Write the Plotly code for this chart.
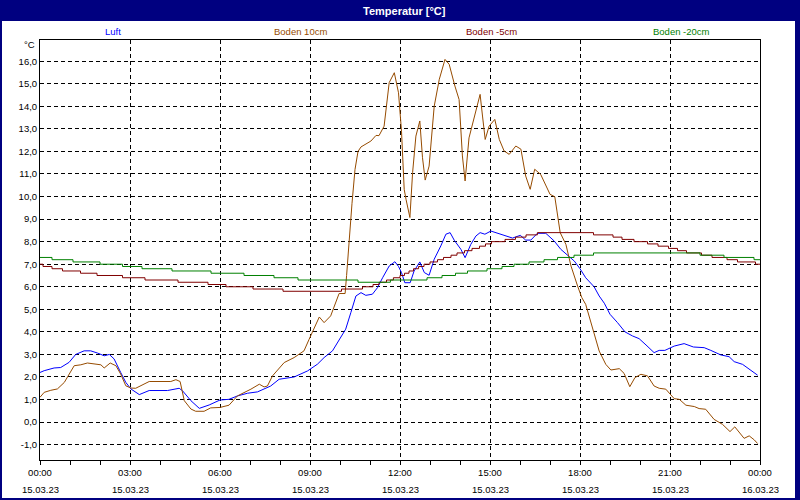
import plotly.graph_objects as go

# ---------------- data (hours since 15.03.23 00:00, °C) ----------------
luft_h = [0.0, 0.14, 0.47, 0.69, 0.97, 1.19, 1.47, 1.69, 1.92, 2.14, 2.31, 2.47, 2.69, 2.86,
          3.03, 3.31, 3.64, 4.25, 4.64, 4.75, 5.03, 5.31, 5.64, 6.0, 6.3, 6.58, 6.92, 7.25,
          7.69, 7.97, 8.47, 8.92, 9.25, 9.47, 9.75, 9.97, 10.19, 10.36, 10.53, 10.7, 10.86,
          11.08, 11.25, 11.42, 11.64, 11.83, 11.95, 12.05, 12.16, 12.34, 12.47, 12.66, 12.81,
          12.97, 13.14, 13.36, 13.53, 13.67, 13.81, 14.03, 14.17, 14.36, 14.53, 14.67, 14.83,
          15.03, 15.19, 15.47, 15.75, 16.01, 16.19, 16.36, 16.58, 16.86, 17.14, 17.36, 17.58,
          17.81, 18.0, 18.19, 18.47, 18.64, 18.81, 19.0, 19.25, 19.5, 19.75, 19.97, 20.2,
          20.47, 20.64, 20.83, 21.14, 21.47, 21.78, 22.14, 22.36, 22.69, 22.97, 23.14, 23.42,
          23.64, 23.81, 23.92]
luft_v = [2.2, 2.28, 2.4, 2.42, 2.65, 3.0, 3.16, 3.16, 3.06, 2.94, 3.0, 2.8, 2.2, 1.76,
          1.47, 1.22, 1.4, 1.4, 1.5, 1.39, 0.95, 0.61, 0.76, 0.98, 1.01, 1.16, 1.28, 1.34,
          1.6, 1.9, 2.0, 2.27, 2.57, 2.86, 3.16, 3.67, 4.12, 4.85, 5.59, 5.74, 5.62,
          5.67, 5.96, 6.4, 6.92, 7.11, 6.9, 6.63, 6.18, 6.18, 6.7, 7.1, 6.63,
          6.51, 7.22, 7.81, 8.33, 8.4, 8.06, 7.66, 7.29, 7.88, 8.25, 8.4, 8.33,
          8.47, 8.4, 8.28, 8.16, 8.28, 8.07, 8.07, 8.37, 8.37, 8.03, 7.66, 7.39,
          7.14, 6.8, 6.4, 6.0, 5.59, 5.27, 4.78, 4.41, 4.0, 3.82, 3.7, 3.42,
          3.08, 3.18, 3.18, 3.37, 3.48, 3.33, 3.3, 3.18, 2.98, 2.9, 2.68, 2.56,
          2.34, 2.15, 2.08]

boden10_h = [0.0, 0.14, 0.36, 0.58, 0.81, 1.14, 1.36, 1.58, 2.03, 2.14, 2.34, 2.53, 2.69, 2.86,
             3.03, 3.19, 3.64, 4.36, 4.53, 4.67, 4.81, 5.03, 5.19, 5.47, 5.69, 6.0, 6.3, 6.58,
             7.03, 7.31, 7.47, 7.58, 7.75, 8.14, 8.47, 8.8, 8.97, 9.31, 9.47, 9.69, 9.97,
             10.17, 10.22, 10.3, 10.4, 10.5, 10.6, 10.7, 11.03, 11.2, 11.3, 11.47, 11.64,
             11.81, 11.95, 12.05, 12.14, 12.2, 12.33, 12.42, 12.53, 12.66, 12.75, 12.84,
             12.97, 13.14, 13.31, 13.5, 13.64, 13.83, 13.97, 14.08, 14.17, 14.3, 14.53, 14.67,
             14.75, 14.84, 14.97, 15.16, 15.31, 15.47, 15.64, 15.86, 16.03, 16.19, 16.34,
             16.49, 16.69, 17.0, 17.16, 17.34, 17.53, 17.7, 17.92, 18.06, 18.19, 18.42,
             18.64, 18.86, 19.03, 19.31, 19.47, 19.66, 19.83, 20.03, 20.25, 20.47, 20.64,
             20.86, 21.14, 21.31, 21.53, 21.81, 21.97, 22.19, 22.47, 22.75, 23.0, 23.16,
             23.31, 23.47, 23.64, 23.81, 23.92]
boden10_v = [1.1, 1.32, 1.41, 1.47, 1.76, 2.5, 2.54, 2.62, 2.54, 2.4, 2.62, 2.5, 2.13, 1.61,
             1.51, 1.5, 1.8, 1.8, 1.88, 1.8, 0.95, 0.58, 0.48, 0.48, 0.63, 0.65, 0.75, 1.16,
             1.46, 1.68, 1.56, 1.6, 2.05, 2.64, 2.86, 3.16, 3.67, 4.66, 4.41, 4.71, 5.7,
             5.7, 6.5, 8.0, 9.7, 11.2, 12.0, 12.2, 12.46, 12.71, 12.7, 13.12, 15.05,
             15.49, 14.6, 12.9, 10.32, 9.88, 9.07, 11.06, 12.68, 13.35, 11.72, 10.73,
             11.35, 14.0, 15.2, 16.08, 15.86, 14.9, 14.3, 11.8, 10.69, 12.6, 13.79, 14.53,
             13.57, 12.53, 13.12, 13.42, 12.53, 12.02, 11.87, 12.24, 12.1, 10.91, 10.32,
             11.21, 10.98, 10.1, 9.99, 8.4, 7.88, 6.92, 6.03, 5.52, 5.22, 4.11,
             3.15, 2.56, 2.31, 2.37, 2.16, 1.57, 1.97, 2.12, 2.05, 1.6, 1.5,
             1.46, 1.04, 1.01, 0.75, 0.69, 0.6, 0.57, 0.12, -0.1, -0.42, -0.21,
             -0.47, -0.72, -0.61, -0.79, -0.95]

boden5_h = [0.0, 0.1, 0.4, 0.75, 1.35, 1.9, 2.75, 3.5, 4.6, 5.6, 6.2, 7.1, 8.1, 10.05, 10.75,
            11.1, 11.3, 11.55, 11.78, 12.0, 12.15, 12.3, 12.45, 12.62, 12.8, 13.0, 13.25,
            13.45, 13.7, 13.9, 14.15, 14.4, 14.65, 14.85, 15.05, 15.5, 15.85, 16.2, 16.58,
            18.45, 19.1, 19.4, 19.8, 20.25, 20.6, 20.95, 21.25, 21.55, 22.05, 22.4, 22.9,
            23.25, 23.85, 24.0]
boden5_v = [7.0, 6.9, 6.8, 6.7, 6.6, 6.5, 6.4, 6.3, 6.2, 6.1, 6.0, 5.9, 5.8, 5.9, 6.0,
            6.1, 6.2, 6.3, 6.4, 6.5, 6.6, 6.7, 6.8, 6.9, 7.0, 7.1, 7.2,
            7.3, 7.4, 7.5, 7.6, 7.7, 7.8, 7.9, 8.0, 8.1, 8.2, 8.3, 8.4,
            8.3, 8.2, 8.1, 8.0, 7.9, 7.8, 7.7, 7.6, 7.5, 7.4, 7.3, 7.2,
            7.1, 7.0, 7.0]

boden20_h = [0.0, 0.4, 1.1, 2.0, 2.75, 3.4, 4.4, 5.7, 6.8, 7.8, 8.6, 10.6, 11.68, 12.9, 13.4,
             13.85, 14.25, 14.9, 15.4, 15.8, 16.3, 16.8, 17.25, 17.8, 18.45, 22.0, 22.8,
             23.8, 24.0]
boden20_v = [7.3, 7.2, 7.1, 7.0, 6.9, 6.8, 6.7, 6.6, 6.5, 6.4, 6.3, 6.2, 6.3, 6.4, 6.5,
             6.6, 6.7, 6.8, 6.9, 7.0, 7.1, 7.2, 7.3, 7.4, 7.5, 7.4, 7.3,
             7.2, 7.2]

series_names = ["Luft", "Boden 10cm", "Boden -5cm", "Boden -20cm"]
series_colors = ["#0000FF", "#964B00", "#800000", "#008000"]

x_tick_hours = [0, 3, 6, 9, 12, 15, 18, 21, 24]
x_tick_times = ["00:00", "03:00", "06:00", "09:00", "12:00", "15:00", "18:00", "21:00", "00:00"]
x_tick_dates = ["15.03.23"] * 8 + ["16.03.23"]
y_tick_vals = list(range(-1, 17))
y_tick_text = [f"{v},0" for v in y_tick_vals]

# ---------------- figure ----------------
FONT = "Liberation Sans, Arial, sans-serif"
W, H = 800, 500
L, R, T, B = 40, 40, 40, 40
PW, PH = W - L - R, H - T - B


def px(x):
    return (x - L) / PW


def py(y):
    return (H - B - y) / PH


fig = go.Figure()
data = [(luft_h, luft_v, "linear"), (boden10_h, boden10_v, "linear"),
        (boden5_h, boden5_v, "hv"), (boden20_h, boden20_v, "hv")]
for (h, v, shape), name, col in zip(data, series_names, series_colors):
    fig.add_trace(go.Scatter(x=h, y=v, mode="lines", name=name,
                             line=dict(color=col, width=1, shape=shape)))

# white inner panel inside navy frame
shapes = [dict(type="rect", xref="paper", yref="paper", layer="below",
               x0=px(2), x1=px(795), y0=py(498), y1=py(21),
               fillcolor="white", line=dict(width=0))]

annotations = [dict(text="<b>Temperatur [°C]</b>", xref="paper", yref="paper",
                    x=px(404), y=py(11), showarrow=False,
                    font=dict(family=FONT, size=11, color="white"),
                    xanchor="center", yanchor="middle"),
               dict(text="°C", xref="paper", yref="paper", x=px(37), y=py(45),
                    showarrow=False, xanchor="right", yanchor="middle",
                    font=dict(family=FONT, size=9.5, color="black"))]
legend_x = [113, 300, 491, 681]
for name, col, lx in zip(series_names, series_colors, legend_x):
    annotations.append(dict(text=name, xref="paper", yref="paper", x=px(lx), y=py(31),
                            showarrow=False, xanchor="center", yanchor="middle",
                            font=dict(family=FONT, size=9.5, color=col)))
for hx, d in zip(x_tick_hours, x_tick_dates):
    annotations.append(dict(text=d, xref="x", yref="paper", x=hx, y=py(489),
                            showarrow=False, xanchor="center", yanchor="middle",
                            font=dict(family=FONT, size=9.5, color="black")))

fig.update_layout(
    width=W, height=H,
    margin=dict(l=L, r=R, t=T, b=B, pad=0),
    paper_bgcolor="#000080",
    plot_bgcolor="rgba(0,0,0,0)",
    showlegend=False,
    shapes=shapes,
    annotations=annotations,
    font=dict(family=FONT, size=9.5, color="black"),
)
fig.update_xaxes(range=[0, 24], tickvals=x_tick_hours, ticktext=x_tick_times,
                 showline=True, mirror=True, linecolor="black", linewidth=1,
                 showgrid=True, gridcolor="black", griddash="4px,3px", gridwidth=1,
                 ticks="outside", ticklen=4, tickcolor="black",
                 minor=dict(dtick=1, ticks="outside", ticklen=4, tickcolor="black", showgrid=False),
                 zeroline=False, tickfont=dict(family=FONT, size=9.5, color="black"))
fig.update_yaxes(range=[-1.68, 16.94], tickvals=y_tick_vals, ticktext=y_tick_text,
                 showline=True, mirror=True, linecolor="black", linewidth=1,
                 showgrid=True, gridcolor="black", griddash="4px,3px", gridwidth=1,
                 ticks="", zeroline=False,
                 tickfont=dict(family=FONT, size=9.5, color="black"))

fig.write_html("out.html", config={"displayModeBar": False},
               post_script="document.body.style.margin='0px';document.body.style.overflow='hidden';")
